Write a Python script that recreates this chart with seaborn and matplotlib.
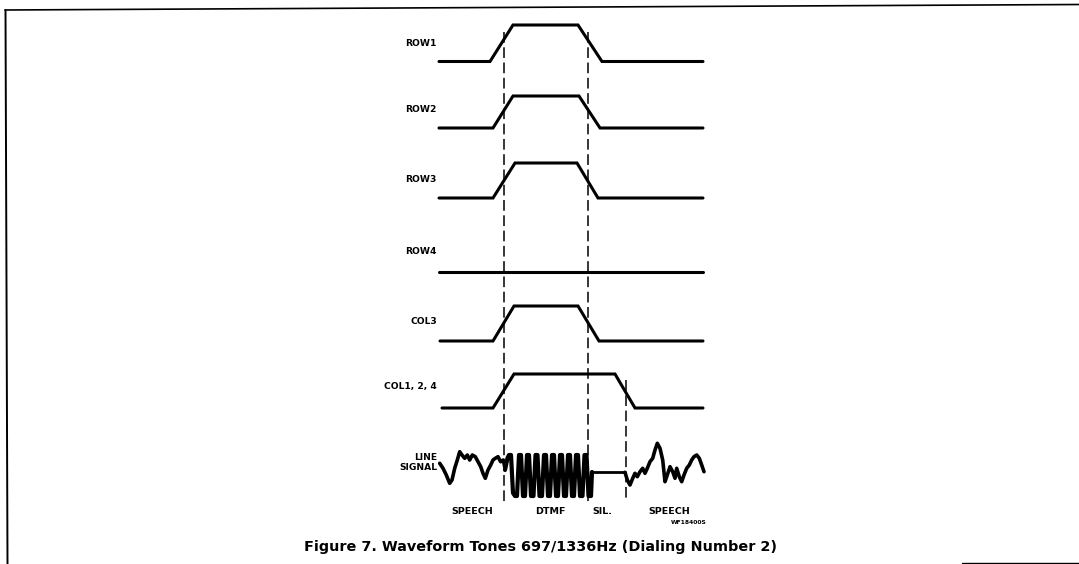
import numpy as np
import pandas as pd
import seaborn as sns
import matplotlib.pyplot as plt

# channel traces (page pixel units: x = time, y = level)
labels = ["ROW1", "ROW2", "ROW3", "ROW4", "COL3", "COL1, 2, 4"]
label_y = [43, 110, 179, 252, 321, 386]
low_y = [61.5, 128, 198, 272, 341, 408]
high_y = [25, 96, 163, None, 306, 374]
x_start = [439, 439, 439, 439, 440, 442]
rise_start = [490, 493, 493, None, 493, 493]
rise_end = [513, 513, 515, None, 514, 514]
fall_start = [578, 579, 577, None, 578, 615]
fall_end = [602, 600, 598, None, 599, 635]
x_end = 703

# dashed timing markers
marker_x = [504, 588, 626]
marker_top = [32, 32, 380]
marker_bottom = [503, 505, 502]

# line signal: speech, DTMF burst, silence, speech
speech1_x = [439.7, 443, 446.3, 449.7, 452, 454.7, 457.3, 459.7, 462, 464.7, 467.3, 469.7,
             472.3, 475.3, 478, 480.7, 483, 485.3, 488, 490.7, 493, 495.3, 498, 500.7, 503.3, 504.7]
speech1_y = [463.3, 468.3, 475, 483.3, 480, 468.3, 460, 451.7, 455, 458.3, 455, 460,
             455, 456.7, 461.7, 466.7, 473.3, 478.3, 470, 465, 460, 458.3, 456.7, 461.7, 460, 466.7]
dtmf_x = [505, 507.5, 509, 511, 513, 515, 517, 519, 521, 523, 525, 527, 529, 531, 533.5, 535.5,
          537.5, 539.5, 542, 544, 546, 548, 550, 552, 554, 556, 558, 560, 562, 564, 566, 568,
          570, 572, 574, 576, 578, 580, 582.5, 584.5, 586.5, 588.5, 591, 592]
dtmf_y = [470, 458, 455, 455, 493, 496, 496, 455, 455, 496, 496, 455, 455, 496, 496, 455,
          455, 496, 496, 455, 455, 496, 496, 455, 455, 496, 496, 455, 455, 496, 496, 455,
          455, 496, 496, 455, 455, 496, 496, 455, 455, 496, 496, 472]
silence_x = [592, 625]
silence_y = [472.3, 472.3]
speech2_x = [625, 627.3, 630, 632.7, 635, 637.3, 640, 642.7, 645, 647.3, 650, 652.7, 655, 657.3,
             660, 662.7, 665, 667.3, 670, 672.7, 675, 676.7, 679.3, 681.7, 684, 686.7, 689.3,
             691.7, 694, 696.7, 699.3, 701.7, 704]
speech2_y = [472.3, 480, 485, 478.3, 473.3, 476.7, 471.7, 468.3, 473.3, 468.3, 461.7, 458.3, 450,
             443.3, 448.3, 460, 481.7, 475, 466.7, 471.7, 478.3, 468.3, 476.7, 481.7, 475, 468.3,
             465, 460, 456.7, 455, 458.3, 465, 471.7]

segment_names = ["SPEECH", "DTMF", "SIL.", "SPEECH"]
segment_x = [472, 550, 602, 669]

caption = "Figure 7. Waveform Tones 697/1336Hz (Dialing Number 2)"

sns.set_theme(style="white")
plt.rcParams['font.family'] = ['DejaVu Sans']
plt.rcParams['text.color'] = 'black'

fig = plt.figure(figsize=(10.79, 5.64), dpi=100)
ax = fig.add_axes([0, 0, 1, 1])
ax.set_xlim(0, 1079)
ax.set_ylim(564, 0)
ax.axis('off')

# channel waveforms
for i, name in enumerate(labels):
    if high_y[i] is None:
        xs = [x_start[i], x_end]
        ys = [low_y[i], low_y[i]]
    else:
        xs = [x_start[i], rise_start[i], rise_end[i], fall_start[i], fall_end[i], x_end]
        ys = [low_y[i], low_y[i], high_y[i], high_y[i], low_y[i], low_y[i]]
    df = pd.DataFrame({'t': xs, 'v': ys})
    sns.lineplot(data=df, x='t', y='v', sort=False, estimator=None, ax=ax,
                 color='black', linewidth=2.2, solid_joinstyle='miter')
    ax.text(437, label_y[i], name, ha='right', va='center', fontsize=6.6,
            fontweight='bold', color='black')

# dashed markers
for mx, top, bot in zip(marker_x, marker_top, marker_bottom):
    ax.plot([mx, mx], [top, bot], color='black', linewidth=1.1, dashes=(7, 3))

# line signal
sig = [(speech1_x, speech1_y, 2.6), (dtmf_x, dtmf_y, 3.0),
       (silence_x, silence_y, 2.0), (speech2_x, speech2_y, 2.6)]
for xs, ys, lw in sig:
    df = pd.DataFrame({'t': xs, 'v': ys})
    sns.lineplot(data=df, x='t', y='v', sort=False, estimator=None, ax=ax,
                 color='black', linewidth=lw, solid_joinstyle='round')

ax.text(437, 457, "LINE", ha='right', va='center', fontsize=6.6, fontweight='bold', color='black')
ax.text(437, 468, "SIGNAL", ha='right', va='center', fontsize=6.6, fontweight='bold', color='black')

for name, sx in zip(segment_names, segment_x):
    ax.text(sx, 511, name, ha='center', va='center', fontsize=6.8, fontweight='bold', color='black')
ax.text(689, 523, "WF18400S", ha='center', va='center', fontsize=4.3, fontweight='bold', color='black')

ax.text(540, 547, caption, ha='center', va='center', fontsize=10.4, fontweight='bold', color='black')

# page frame fragments
ax.plot([5, 1079], [10, 4.5], color='black', linewidth=1.2)
ax.plot([5.5, 7.5], [10, 564], color='black', linewidth=1.4)
ax.plot([962, 1079], [563, 563], color='black', linewidth=1.0)

ax.set_xlabel('')
ax.set_ylabel('')
fig.savefig('out.png', dpi=100)
